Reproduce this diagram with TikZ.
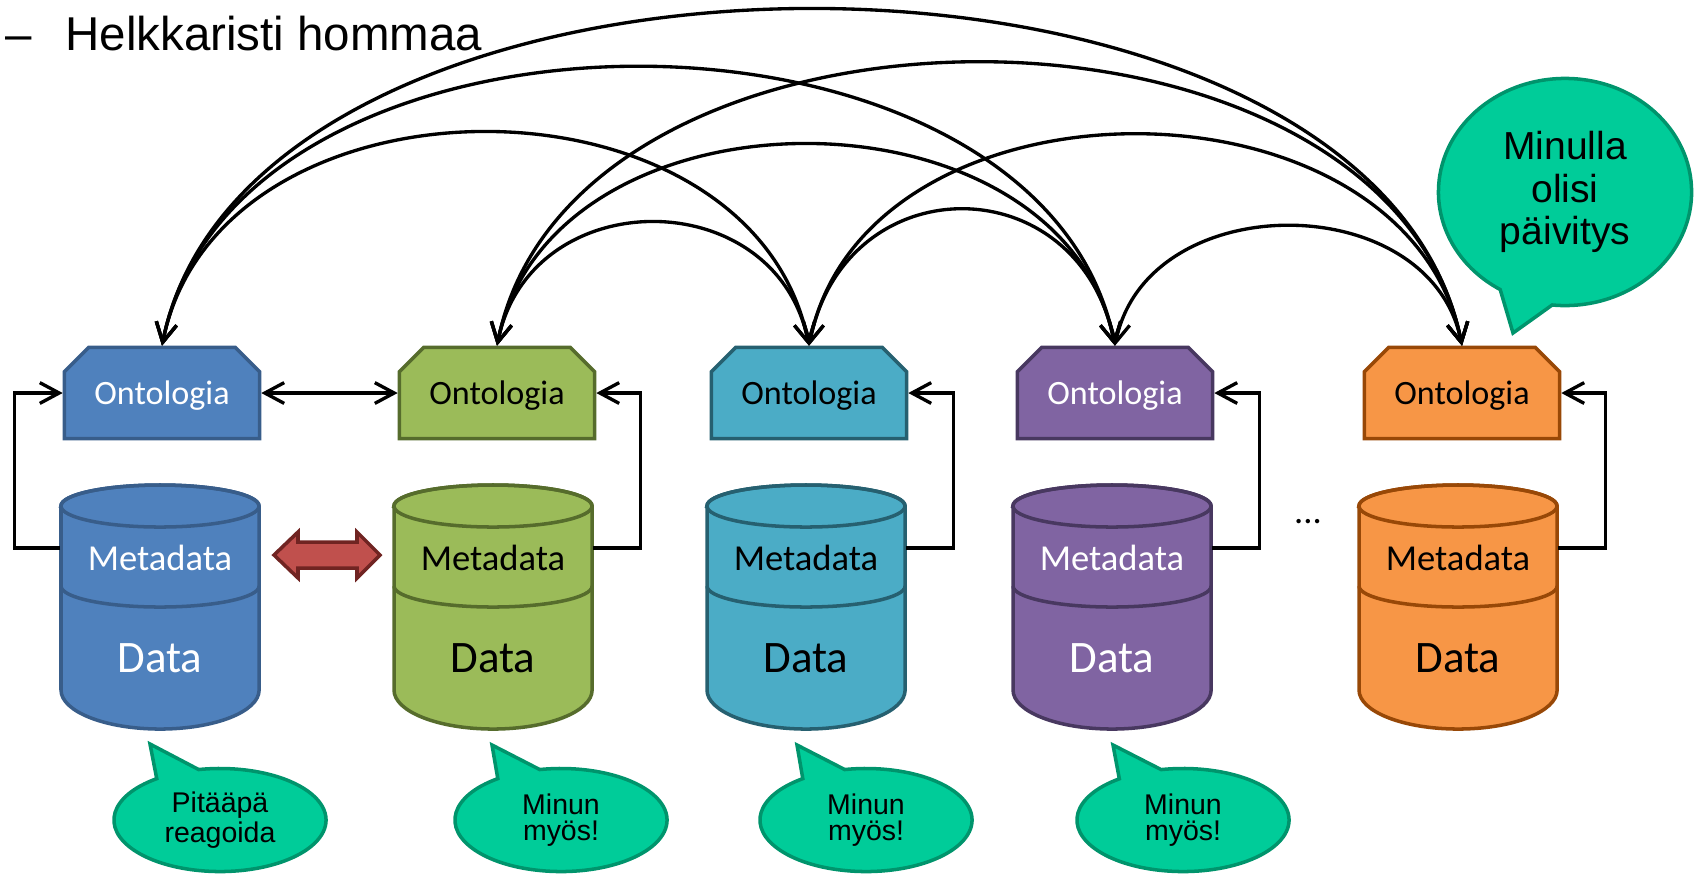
\documentclass[tikz,border=0pt]{standalone}
\usepackage{fontspec}
\setmainfont{Liberation Sans}
\newfontfamily\carlito{Carlito}
\usetikzlibrary{shapes.misc,shapes.callouts,arrows.meta}
\definecolor{bluefill}{RGB}{79,129,189}
\definecolor{blueline}{RGB}{56,93,138}
\definecolor{greenfill}{RGB}{155,187,89}
\definecolor{greenline}{RGB}{86,108,44}
\definecolor{aquafill}{RGB}{75,172,198}
\definecolor{aqualine}{RGB}{38,96,112}
\definecolor{violetfill}{RGB}{128,100,162}
\definecolor{violetline}{RGB}{72,56,96}
\definecolor{orangefill}{RGB}{247,150,70}
\definecolor{orangeline}{RGB}{152,72,7}
\definecolor{redfill}{RGB}{192,80,77}
\definecolor{redline}{RGB}{112,36,34}
\definecolor{bubblefill}{RGB}{0,204,153}
\definecolor{bubbleline}{RGB}{0,148,108}
\begin{document}
\begin{tikzpicture}[x=0.01cm,y=-0.01cm]
                \tikzstyle{every node}+=[inner sep=0pt]
                \tikzstyle{onto}=[chamfered rectangle, chamfered rectangle corners={north west,north east}, chamfered rectangle xsep=0.15cm, minimum width=1.95cm, minimum height=0.91cm, text depth=0pt, line width=1pt, font=\carlito\fontsize{9.7pt}{11pt}\selectfont]
                \tikzstyle{can}=[line width=1pt]
                \tikzstyle{meta}=[minimum width=1.98cm, text height=13pt, text depth=0pt, font=\carlito\fontsize{10.4pt}{12pt}\selectfont]
                \tikzstyle{datatext}=[font=\carlito\fontsize{12.8pt}{15pt}\selectfont]
                \tikzstyle{link}=[line width=0.95pt, >={Straight Barb[length=5.5pt,width=5.9pt]}]
                \tikzstyle{bubble}=[ellipse callout, callout pointer arc=25, fill=bubblefill, draw=bubbleline, line width=1pt, align=center]
                \useasboundingbox (0,0) rectangle (1695,875);
                \node [anchor=base west, font=\fontsize{13.5pt}{16pt}\selectfont] (title) at (5,50) {–\hspace{9.5pt}Helkkaristi hommaa};
                \filldraw [can, fill=bluefill, draw=blueline] (61,506) -- (61,690) arc [start angle=180, end angle=360, x radius=0.99cm, y radius=0.39cm] -- (259,506) arc [start angle=0, end angle=180, x radius=0.99cm, y radius=0.21cm] -- cycle;
                \draw [can, blueline] (160,506) ellipse [x radius=0.99cm, y radius=0.21cm];
                \draw [can, blueline] (61,586) arc [start angle=180, end angle=360, x radius=0.99cm, y radius=0.21cm];
                \filldraw [can, fill=greenfill, draw=greenline] (394,506) -- (394,690) arc [start angle=180, end angle=360, x radius=0.99cm, y radius=0.39cm] -- (592,506) arc [start angle=0, end angle=180, x radius=0.99cm, y radius=0.21cm] -- cycle;
                \draw [can, greenline] (493,506) ellipse [x radius=0.99cm, y radius=0.21cm];
                \draw [can, greenline] (394,586) arc [start angle=180, end angle=360, x radius=0.99cm, y radius=0.21cm];
                \filldraw [can, fill=aquafill, draw=aqualine] (707,506) -- (707,690) arc [start angle=180, end angle=360, x radius=0.99cm, y radius=0.39cm] -- (905,506) arc [start angle=0, end angle=180, x radius=0.99cm, y radius=0.21cm] -- cycle;
                \draw [can, aqualine] (806,506) ellipse [x radius=0.99cm, y radius=0.21cm];
                \draw [can, aqualine] (707,586) arc [start angle=180, end angle=360, x radius=0.99cm, y radius=0.21cm];
                \filldraw [can, fill=violetfill, draw=violetline] (1013,506) -- (1013,690) arc [start angle=180, end angle=360, x radius=0.99cm, y radius=0.39cm] -- (1211,506) arc [start angle=0, end angle=180, x radius=0.99cm, y radius=0.21cm] -- cycle;
                \draw [can, violetline] (1112,506) ellipse [x radius=0.99cm, y radius=0.21cm];
                \draw [can, violetline] (1013,586) arc [start angle=180, end angle=360, x radius=0.99cm, y radius=0.21cm];
                \filldraw [can, fill=orangefill, draw=orangeline] (1359,506) -- (1359,690) arc [start angle=180, end angle=360, x radius=0.99cm, y radius=0.39cm] -- (1557,506) arc [start angle=0, end angle=180, x radius=0.99cm, y radius=0.21cm] -- cycle;
                \draw [can, orangeline] (1458,506) ellipse [x radius=0.99cm, y radius=0.21cm];
                \draw [can, orangeline] (1359,586) arc [start angle=180, end angle=360, x radius=0.99cm, y radius=0.21cm];
                \node [meta, text=white] (m1) at (160,548) {Metadata};
                \node [datatext, text=white] (d1) at (160,658) {Data};
                \node [meta] (m2) at (493,548) {Metadata};
                \node [datatext] (d2) at (493,658) {Data};
                \node [meta] (m3) at (806,548) {Metadata};
                \node [datatext] (d3) at (806,658) {Data};
                \node [meta, text=white] (m4) at (1112,548) {Metadata};
                \node [datatext, text=white] (d4) at (1112,658) {Data};
                \node [meta] (m5) at (1458,548) {Metadata};
                \node [datatext] (d5) at (1458,658) {Data};
                \node [onto, fill=bluefill, draw=blueline, text=white] (o1) at (162,393) {Ontologia};
                \node [onto, fill=greenfill, draw=greenline] (o2) at (497,393) {Ontologia};
                \node [onto, fill=aquafill, draw=aqualine] (o3) at (809,393) {Ontologia};
                \node [onto, fill=violetfill, draw=violetline, text=white] (o4) at (1115,393) {Ontologia};
                \node [onto, fill=orangefill, draw=orangeline] (o5) at (1462,393) {Ontologia};
                \node [anchor=base, font=\carlito\fontsize{10.4pt}{12pt}\selectfont] (more) at (1308,523) {...};
                \draw [link, ->] (m1.west) -- ++(-46,0) |- (o1.west);
                \draw [link, ->] (m2.east) -- ++(48,0) |- (o2.east);
                \draw [link, ->] (m3.east) -- ++(48,0) |- (o3.east);
                \draw [link, ->] (m4.east) -- ++(48,0) |- (o4.east);
                \draw [link, ->] (m5.east) -- ++(48,0) |- (o5.east);
                \draw [link, <->] (o1.east) -- (o2.west);
                \filldraw [can, fill=redfill, draw=redline] (274,555) -- (298,532) -- (298,542) -- (357,542) -- (357,532) -- (380,555) -- (357,578) -- (357,568) -- (298,568) -- (298,578) -- cycle;
                \draw [link, <->] (o1.north) .. controls +(90,-448) and +(-90,-448) .. (o5.north);
                \draw [link, <->] (o1.north) .. controls +(74,-371) and +(-74,-371) .. (o4.north);
                \draw [link, <->] (o1.north) .. controls +(57,-284) and +(-57,-284) .. (o3.north);
                \draw [link, <->] (o2.north) .. controls +(75,-377) and +(-75,-377) .. (o5.north);
                \draw [link, <->] (o2.north) .. controls +(54,-268) and +(-54,-268) .. (o4.north);
                \draw [link, <->] (o2.north) .. controls +(33,-164) and +(-33,-164) .. (o3.north);
                \draw [link, <->] (o3.north) .. controls +(36,-181) and +(-36,-181) .. (o4.north);
                \draw [link, <->] (o3.north) .. controls +(56,-281) and +(-56,-281) .. (o5.north);
                \draw [link, <->] (o4.north) .. controls +(32,-159) and +(-32,-159) .. (o5.north);
                \node [bubble, minimum width=2.53cm, minimum height=2.27cm, callout absolute pointer={(1513,333)}, font=\fontsize{11.1pt}{12.1pt}\selectfont] (say5) at (1565,192) {Minulla\\olisi\\päivitys};
                \node [bubble, minimum width=2.12cm, minimum height=1.03cm, callout absolute pointer={(150,744)}, font=\fontsize{8.1pt}{7.4pt}\selectfont] (say1) at (220,820) {Pitääpä\\reagoida};
                \node [bubble, minimum width=2.12cm, minimum height=1.03cm, callout absolute pointer={(492,745)}, font=\fontsize{8.1pt}{7.4pt}\selectfont] (say2) at (561,820) {Minun\\myös!};
                \node [bubble, minimum width=2.12cm, minimum height=1.03cm, callout absolute pointer={(797,745)}, font=\fontsize{8.1pt}{7.4pt}\selectfont] (say3) at (866,820) {Minun\\myös!};
                \node [bubble, minimum width=2.12cm, minimum height=1.03cm, callout absolute pointer={(1113,745)}, font=\fontsize{8.1pt}{7.4pt}\selectfont] (say4) at (1183,820) {Minun\\myös!};
              \end{tikzpicture}
\end{document}
